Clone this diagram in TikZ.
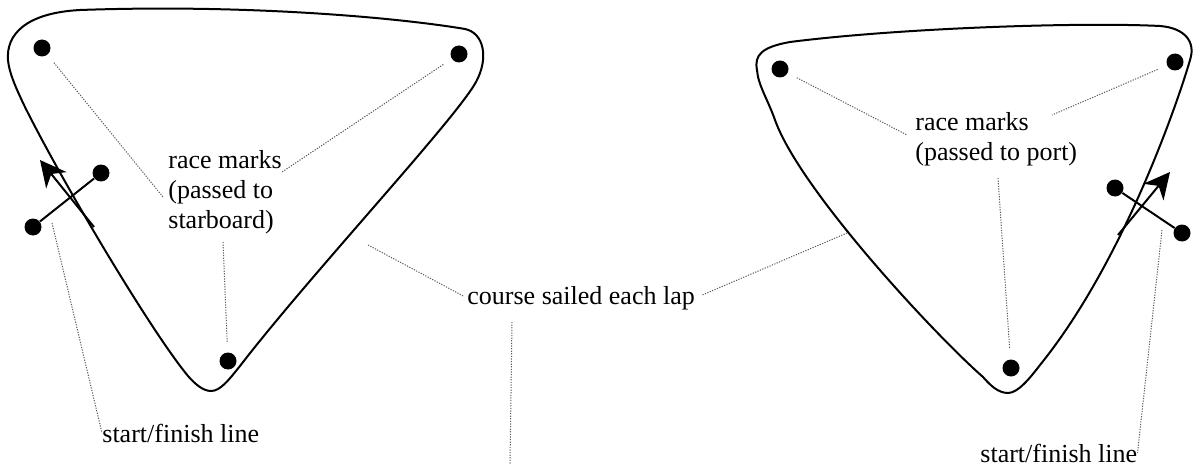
\documentclass[tikz,border=0pt]{standalone}
\usepackage{fontspec}
\setmainfont{Liberation Serif}
\usetikzlibrary{arrows.meta}
\begin{document}
\begin{tikzpicture}[x=0.5pt,y=-0.5pt,
  course/.style={line width=1pt,line join=round},
  markdot/.style={circle,fill=black,inner sep=0pt,minimum size=8.5pt},
  startline/.style={line width=1pt},
  heading/.style={line width=1pt,-{Stealth[length=13pt,width=13pt,inset=4pt]}},
  leader/.style={black!65,line width=0.5pt,dash pattern=on 0.6pt off 0.7pt},
  lbl/.style={font=\fontsize{13}{15}\selectfont,inner sep=0pt,align=left}
]
\useasboundingbox (0,0) rectangle (1194,465);

% ---------------- left course ----------------
\draw[course] (8,60)
  .. controls (6,35) and (25,13) .. (80,10)
  .. controls (250,4) and (400,18) .. (465,29)
  .. controls (484,33) and (489,58) .. (476,82)
  .. controls (455,120) and (310,275) .. (240,366)
  .. controls (228,381) and (220,391) .. (211,391)
  .. controls (203,391) and (195,384) .. (188,376)
  .. controls (150,330) and (60,178) .. (24,105)
  .. controls (15,86) and (9,72) .. (8,60) -- cycle;

\node[markdot] (lA) at (42,48) {};
\node[markdot] (lB) at (459,54) {};
\node[markdot] (lC) at (228,361) {};
\node[markdot] (lS1) at (33,227) {};
\node[markdot] (lS2) at (101,173) {};
\draw[startline] (lS1) -- (lS2);
\coordinate (lH0) at (94,227);
\coordinate (lH1) at (40,160);
\draw[heading] (lH0) -- (lH1);

\node[lbl,anchor=west] (lT) at (168,192) {race marks\\(passed to\\starboard)};
\node[lbl,anchor=west] (lSF) at (102,433) {start/finish line};

\coordinate (lAend) at (163,197);
\coordinate (lBend) at (282,172);
\coordinate (lCtop) at (223,242);
\coordinate (lSFtop) at (52,223);
\draw[leader,shorten <=5pt] (lA) -- (lAend);
\draw[leader,shorten <=5pt] (lB) -- (lBend);
\draw[leader,shorten >=5pt] (lCtop) -- (lC);
\draw[leader] (lSFtop) -- (lSF.west);

% ---------------- centre label ----------------
\node[lbl,anchor=west] (cs) at (467,298) {course sailed each lap};
\coordinate (csL) at (368,245);
\coordinate (csR) at (847,233);
\coordinate (csD0) at (512,322);
\coordinate (csD1) at (510,464);
\draw[leader,shorten >=2pt] (csL) -- (cs.west);
\draw[leader,shorten <=4pt] (cs.east) -- (csR);
\draw[leader] (csD0) -- (csD1);

% ---------------- right course ----------------
\draw[course] (757,70)
  .. controls (754,55) and (762,47) .. (790,42)
  .. controls (900,28) and (1080,22) .. (1160,26)
  .. controls (1185,28) and (1196,42) .. (1190,60)
  .. controls (1180,95) and (1125,260) .. (1040,365)
  .. controls (1030,378) and (1018,393) .. (1008,393)
  .. controls (998,393) and (990,385) .. (983,377)
  .. controls (935,335) and (800,190) .. (775,120)
  .. controls (768,100) and (758,85) .. (757,70) -- cycle;

\node[markdot] (rA) at (780,69) {};
\node[markdot] (rB) at (1175,62) {};
\node[markdot] (rC) at (1011,368) {};
\node[markdot] (rS1) at (1115,188) {};
\node[markdot] (rS2) at (1182,233) {};
\draw[startline] (rS1) -- (rS2);
\coordinate (rH0) at (1118,235);
\coordinate (rH1) at (1170,172);
\draw[heading] (rH0) -- (rH1);

\node[lbl,anchor=west] (rT) at (915,139) {race marks\\(passed to port)};
\node[lbl,anchor=west] (rSF) at (980,453) {start/finish line};

\coordinate (rAend) at (907,135);
\coordinate (rBend) at (1052,115);
\coordinate (rCtop) at (998,178);
\coordinate (rSFtop) at (1162,230);
\draw[leader,shorten <=5pt] (rA) -- (rAend);
\draw[leader,shorten <=5pt] (rB) -- (rBend);
\draw[leader,shorten >=5pt] (rCtop) -- (rC);
\draw[leader] (rSFtop) -- (rSF.east);
\end{tikzpicture}
\end{document}
